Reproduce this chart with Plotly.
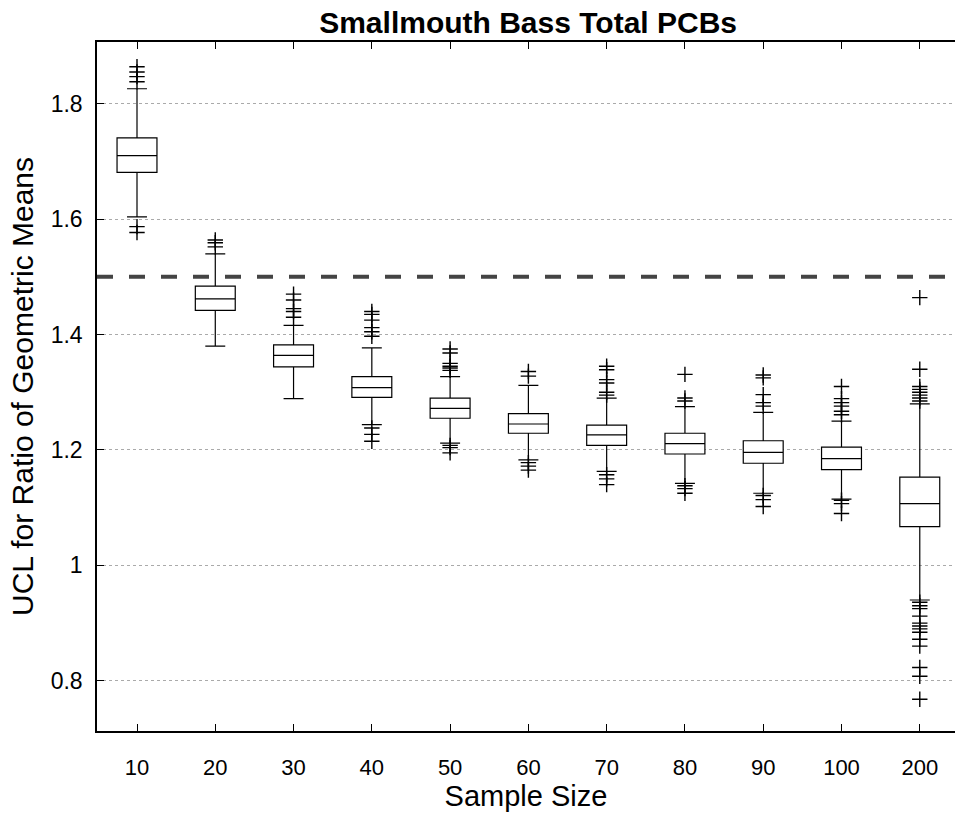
import plotly.graph_objects as go

categories = ["10", "20", "30", "40", "50", "60", "70", "80", "90", "100", "200"]
q1 = [1.681, 1.442, 1.344, 1.291, 1.255, 1.229, 1.208, 1.193, 1.177, 1.166, 1.067]
median = [1.710, 1.462, 1.364, 1.308, 1.272, 1.245, 1.226, 1.211, 1.196, 1.185, 1.107]
q3 = [1.741, 1.484, 1.382, 1.327, 1.290, 1.263, 1.243, 1.229, 1.216, 1.205, 1.153]
upper_whisker = [1.826, 1.540, 1.416, 1.377, 1.327, 1.312, 1.290, 1.275, 1.265, 1.250, 1.280]
lower_whisker = [1.604, 1.380, 1.289, 1.244, 1.212, 1.183, 1.163, 1.142, 1.125, 1.115, 0.940]
outliers = [
    [1.838, 1.847, 1.855, 1.864, 1.587, 1.577],
    [1.552, 1.559, 1.564],
    [1.430, 1.440, 1.445, 1.460, 1.470],
    [1.397, 1.405, 1.412, 1.425, 1.435, 1.440, 1.238, 1.227, 1.215],
    [1.338, 1.342, 1.345, 1.350, 1.368, 1.375, 1.208, 1.204, 1.195],
    [1.328, 1.336, 1.178, 1.172, 1.165],
    [1.295, 1.300, 1.316, 1.322, 1.339, 1.345, 1.157, 1.150, 1.140],
    [1.285, 1.290, 1.331, 1.138, 1.133, 1.125],
    [1.276, 1.282, 1.296, 1.325, 1.330, 1.121, 1.114, 1.102],
    [1.261, 1.267, 1.276, 1.282, 1.289, 1.310, 1.113, 1.107, 1.090],
    [1.285, 1.290, 1.295, 1.300, 1.305, 1.310, 1.340, 1.464,
     0.936, 0.930, 0.925, 0.912, 0.900, 0.895, 0.890, 0.884, 0.872, 0.860, 0.823, 0.808, 0.768],
]
threshold = 1.5
y_ticks = [0.8, 1.0, 1.2, 1.4, 1.6, 1.8]
y_tick_text = ["0.8", "1", "1.2", "1.4", "1.6", "1.8"]

positions = list(range(1, len(categories) + 1))

fig = go.Figure()
fig.add_trace(go.Box(
    x=positions, q1=q1, median=median, q3=q3,
    lowerfence=lower_whisker, upperfence=upper_whisker,
    width=0.51, whiskerwidth=0.5, boxpoints=False,
    line=dict(color="black", width=1.2), fillcolor="white",
    showlegend=False, hoverinfo="skip",
))

ox, oy = [], []
for p, vals in zip(positions, outliers):
    for v in vals:
        ox.append(p)
        oy.append(v)
fig.add_trace(go.Scatter(
    x=ox, y=oy, mode="markers",
    marker=dict(symbol="cross-thin-open", size=11, color="black",
                line=dict(color="black", width=1.4)),
    showlegend=False, hoverinfo="skip",
))

fig.add_shape(type="line", xref="paper", yref="y", x0=0, x1=1, y0=threshold, y1=threshold,
              line=dict(color="#444", width=4, dash="16px,16px"), layer="below")

fig.update_layout(
    template="none",
    width=955, height=816,
    margin=dict(l=97, r=0, t=42, b=85),
    paper_bgcolor="white", plot_bgcolor="white",
    font=dict(family="Liberation Sans, Arial, sans-serif", color="black"),
    title=dict(text="<b>Smallmouth Bass Total PCBs</b>", x=0.553, xanchor="center",
               y=0.973, yanchor="middle", font=dict(size=30, color="black")),
    xaxis=dict(
        range=[0.489, 11.45], tickvals=positions, ticktext=categories, automargin=False,
        ticks="inside", ticklen=7, tickcolor="black", showline=True, linecolor="black",
        linewidth=1.5, mirror="ticks", showgrid=False, zeroline=False,
        tickfont=dict(size=22), ticklabelstandoff=16,
        title=dict(text="Sample Size", font=dict(size=29), standoff=6),
    ),
    yaxis=dict(
        range=[0.713, 1.907], tickvals=y_ticks, ticktext=y_tick_text, automargin=False,
        ticks="inside", ticklen=7, tickcolor="black", showline=True, linecolor="black",
        linewidth=1.5, mirror=False, showgrid=True, gridcolor="#aaa", griddash="dot",
        gridwidth=1, zeroline=False, tickfont=dict(size=23), ticklabelstandoff=8,
        title=dict(text="UCL for Ratio of Geometric Means", font=dict(size=30), standoff=8),
    ),
)

fig.write_html("out.html")
